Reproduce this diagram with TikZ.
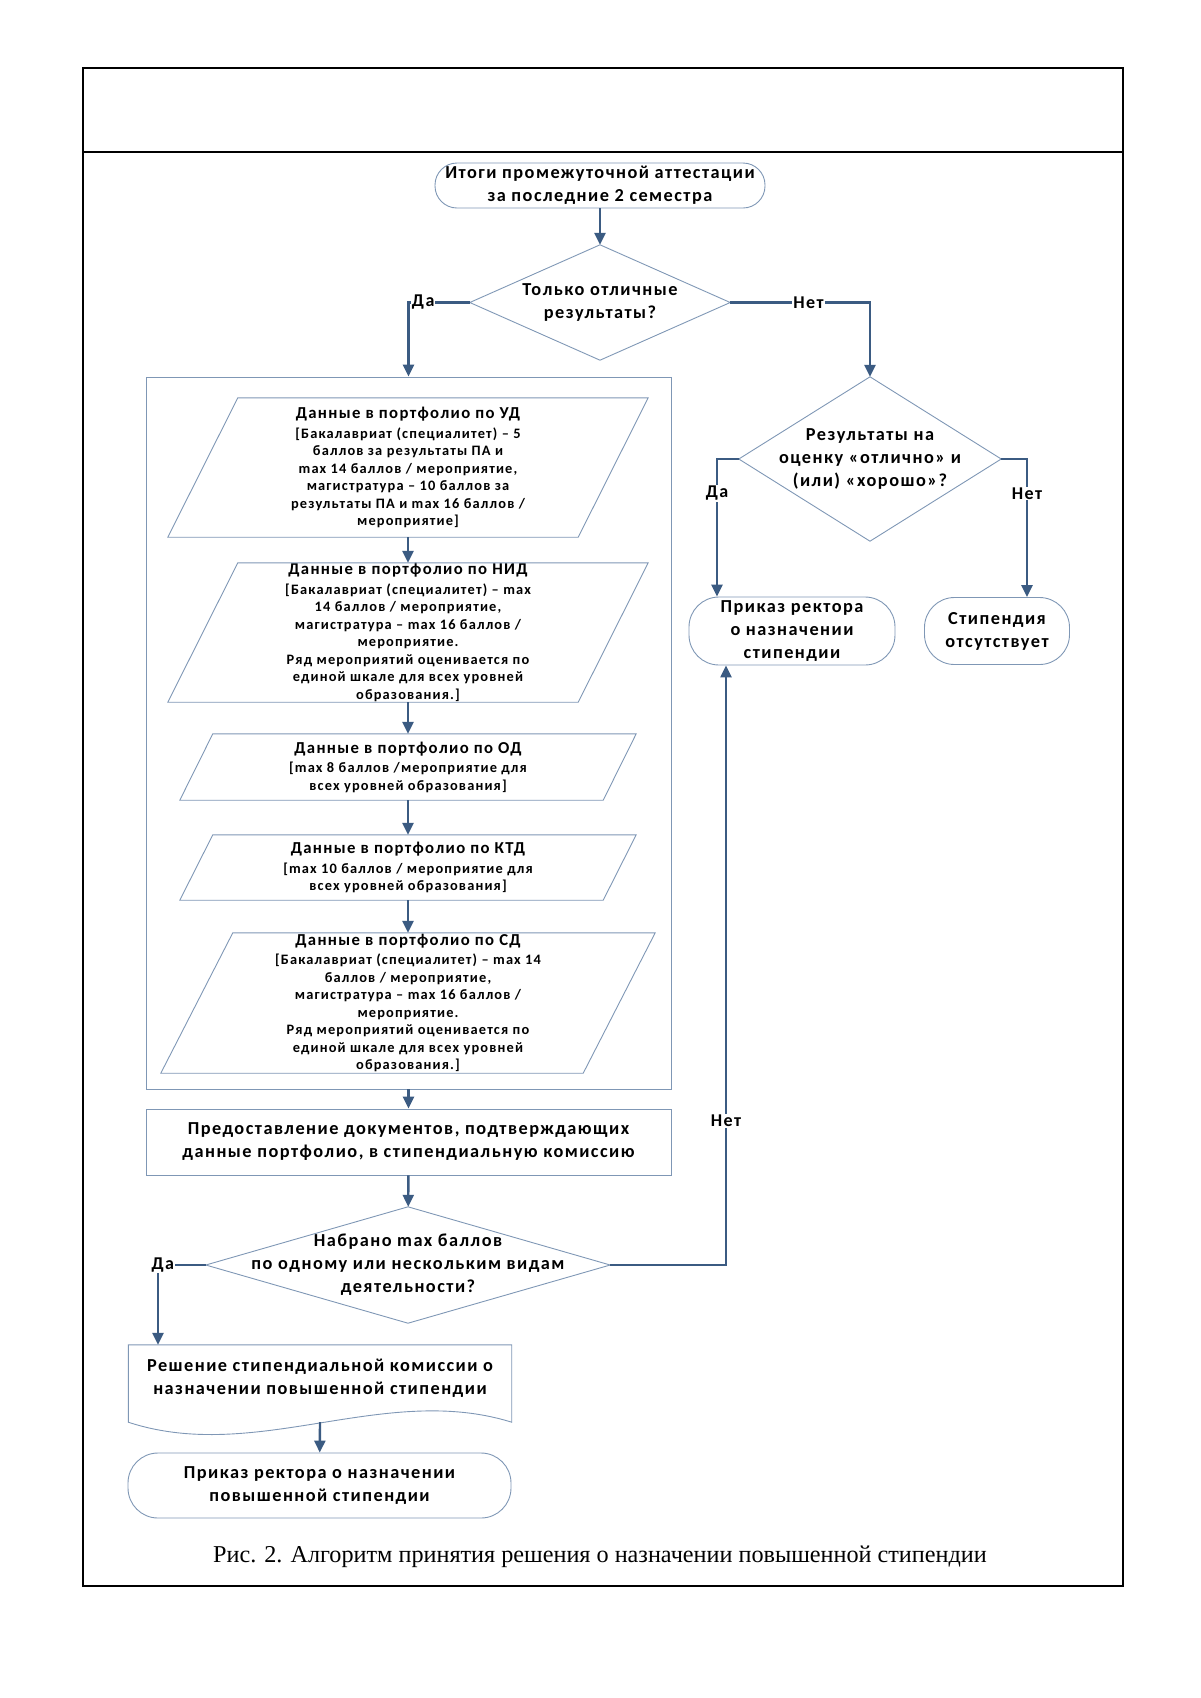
\documentclass[tikz,border=0pt]{standalone}
\usepackage{fontspec}
\setmainfont{Liberation Serif}
\setsansfont{Carlito}[LetterSpace=8]
\usepackage{tikz}
\usetikzlibrary{arrows.meta}

\definecolor{linkblue}{HTML}{3B5B82}
\definecolor{edgegray}{HTML}{7F97B5}

\newcommand\fsmain{\fontsize{18.3}{23}\selectfont}
\newcommand\fshead{\fontsize{16.7}{19}\selectfont}
\newcommand\fsbody{\fontsize{14.4}{17.5}\selectfont}
\newcommand\fslbl{\fontsize{18}{20}\selectfont}
\newcommand\fscap{\fontsize{24.2}{27}\selectfont}

\begin{document}
\begin{tikzpicture}[x=1pt,y=1pt,
  conn/.style={draw=linkblue, line width=2.4pt, -{Triangle[length=12pt,width=11pt]}},
  shapeline/.style={draw=edgegray, line width=0.9pt},
  frameline/.style={draw=black, line width=2pt},
  txt/.style={inner sep=0pt, align=center, font=\sffamily\bfseries\fsmain},
  term/.style={txt, shapeline, rounded corners=#1},
  box/.style={txt, shapeline},
  datatxt/.style={inner sep=0pt, align=center, font=\sffamily\bfseries\fsbody},
  lbl/.style={fill=white, inner sep=1pt, font=\sffamily\bfseries\fslbl}]
\useasboundingbox (0,0) rectangle (1200,-1698);

% page frame
\draw[frameline] (83,-68) rectangle (1123,-1586);
\draw[frameline] (83,-152) -- (1123,-152);

% start and first decision
\node[term=22pt, minimum width=330, minimum height=45] (start) at (600,-185.5)
  {Итоги промежуточной аттестации\\за последние 2 семестра};
\node[txt, minimum width=260, minimum height=115] (d1) at (600,-302.5)
  {Только отличные\\результаты?};
\draw[shapeline] (d1.north) -- (d1.east) -- (d1.south) -- (d1.west) -- cycle;

% portfolio group
\node[shapeline, minimum width=525, minimum height=712] (grp) at (408.5,-733) {};
\node[datatxt, minimum width=410, minimum height=139] (ud) at (408,-467.5)
  {{\fshead Данные в портфолио по УД}\\[2pt]
   [Бакалавриат (специалитет) – 5\\баллов за результаты ПА и\\max 14 баллов / мероприятие,\\
   магистратура – 10 баллов за\\результаты ПА и max 16 баллов /\\мероприятие]};
\draw[shapeline] ([xshift=35]ud.north west) -- ([xshift=35]ud.north east)
  -- ([xshift=-35]ud.south east) -- ([xshift=-35]ud.south west) -- cycle;
\node[datatxt, minimum width=410, minimum height=139] (nid) at (408,-632.5)
  {{\fshead Данные в портфолио по НИД}\\[2pt]
   [Бакалавриат (специалитет) – max\\14 баллов / мероприятие,\\магистратура – max 16 баллов /\\
   мероприятие.\\Ряд мероприятий оценивается по\\единой шкале для всех уровней\\образования.]};
\draw[shapeline] ([xshift=35]nid.north west) -- ([xshift=35]nid.north east)
  -- ([xshift=-35]nid.south east) -- ([xshift=-35]nid.south west) -- cycle;
\node[datatxt, minimum width=423, minimum height=66] (od) at (408,-767)
  {{\fshead Данные в портфолио по ОД}\\[2pt]
   [max 8 баллов /мероприятие для\\всех уровней образования]};
\draw[shapeline] ([xshift=16.5]od.north west) -- ([xshift=16.5]od.north east)
  -- ([xshift=-16.5]od.south east) -- ([xshift=-16.5]od.south west) -- cycle;
\node[datatxt, minimum width=423, minimum height=65] (ktd) at (408,-867.5)
  {{\fshead Данные в портфолио по КТД}\\[2pt]
   [max 10 баллов / мероприятие для\\всех уровней образования]};
\draw[shapeline] ([xshift=16.5]ktd.north west) -- ([xshift=16.5]ktd.north east)
  -- ([xshift=-16.5]ktd.south east) -- ([xshift=-16.5]ktd.south west) -- cycle;
\node[datatxt, minimum width=422, minimum height=140] (sd) at (408,-1003)
  {{\fshead Данные в портфолио по СД}\\[2pt]
   [Бакалавриат (специалитет) – max 14\\баллов / мероприятие,\\магистратура – max 16 баллов /\\
   мероприятие.\\Ряд мероприятий оценивается по\\единой шкале для всех уровней\\образования.]};
\draw[shapeline] ([xshift=36]sd.north west) -- ([xshift=36]sd.north east)
  -- ([xshift=-36]sd.south east) -- ([xshift=-36]sd.south west) -- cycle;

% documents and second decision
\node[box, minimum width=525, minimum height=66] (docs) at (408.5,-1142)
  {Предоставление документов, подтверждающих\\данные портфолио, в стипендиальную комиссию};
\node[txt, minimum width=404, minimum height=116] (d3) at (408,-1265)
  {Набрано max баллов\\по одному или нескольким видам\\деятельности?};
\draw[shapeline] (d3.north) -- (d3.east) -- (d3.south) -- (d3.west) -- cycle;
\node[txt, minimum width=383, minimum height=67] (doc) at (320,-1378.5)
  {Решение стипендиальной комиссии о\\назначении повышенной стипендии};
\draw[shapeline] (doc.north west) -- (doc.north east) -- ([yshift=-10]doc.south east)
  .. controls ([xshift=-128,yshift=30]doc.south east) and ([xshift=128,yshift=-52]doc.south west)
  .. ([yshift=-10]doc.south west) -- cycle;
\node[term=30pt, minimum width=383, minimum height=65] (order2) at (319.5,-1485.5)
  {Приказ ректора о назначении\\повышенной стипендии};

% right branch
\node[txt, minimum width=262, minimum height=164] (d2) at (870,-459)
  {Результаты на\\оценку «отлично» и\\(или) «хорошо»?};
\draw[shapeline] (d2.north) -- (d2.east) -- (d2.south) -- (d2.west) -- cycle;
\node[term=30pt, minimum width=206, minimum height=68] (order1) at (792,-631)
  {Приказ ректора\\о назначении\\стипендии};
\node[term=30pt, minimum width=145, minimum height=67] (none) at (997,-631)
  {Стипендия\\отсутствует};

\coordinate (c2) at (717,-459);
\coordinate (c3) at (1027,-459);
\coordinate (c4) at (726,-1265);
\coordinate (c5) at (158,-1265);

% connectors
\draw[conn] (start) -- (d1);
\draw[conn] (d1.west) -| node[lbl, pos=0.38] {Да} (grp.north);
\draw[conn] (d1.east) -| node[lbl, pos=0.28] {Нет} (d2.north);
\draw[conn] (d2.west) -- (c2) -- node[lbl, pos=0.25] {Да} (c2 |- order1.north);
\draw[conn] (d2.east) -- (c3) -- node[lbl, pos=0.25] {Нет} (c3 |- none.north);
\draw[conn] (ud) -- (nid);
\draw[conn] (nid) -- (od);
\draw[conn] (od) -- (ktd);
\draw[conn] (ktd) -- (sd);
\draw[conn] (grp) -- (docs);
\draw[conn] (docs) -- (d3);
\draw[conn] (d3.east) -- (c4) -- node[lbl, pos=0.24] {Нет} (c4 |- order1.south);
\draw[conn] (d3.west) -- node[lbl, pos=0.9] {Да} (c5) -- (c5 |- doc.north);
\draw[conn] ([yshift=-10]doc.south) -- (order2);

% caption
\node[font=\fscap] (cap) at (600,-1557)
  {Рис. 2. Алгоритм принятия решения о назначении повышенной стипендии};
\end{tikzpicture}
\end{document}
